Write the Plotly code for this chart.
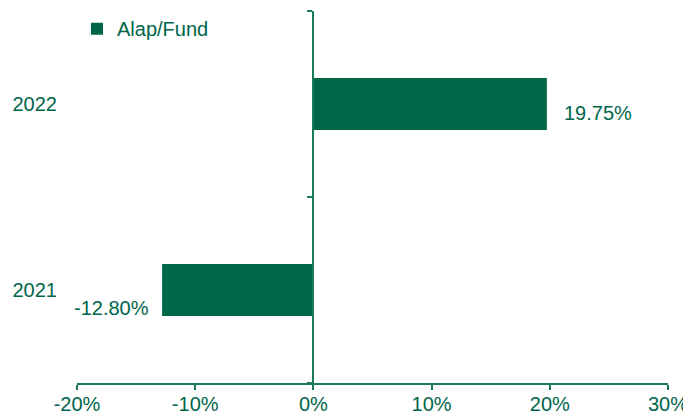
import plotly.graph_objects as go

years = ["2021", "2022"]
fund_returns = [-12.80, 19.75]
label_texts = ["-12.80%", "19.75%"]
x_ticks = [-20, -10, 0, 10, 20, 30]
x_tick_labels = ["-20%", "-10%", "0%", "10%", "20%", "30%"]
series_name = "Alap/Fund"

GREEN = "#00664A"
AXIS = "#1B7A58"
FONT = "Liberation Sans, Arial, sans-serif"
FS = 20

fig = go.Figure()
fig.add_trace(go.Bar(
    x=fund_returns, y=years, orientation="h", name=series_name,
    marker=dict(color=GREEN, line=dict(width=0)), width=0.28,
    yaxis="y", xaxis="x", showlegend=True, hoverinfo="skip",
))
# invisible trace to draw the category axis at x = 0
fig.add_trace(go.Scatter(
    x=[0, 0], y=years, yaxis="y2", xaxis="x", mode="markers",
    marker=dict(opacity=0), showlegend=False, hoverinfo="skip",
))

# data labels (category index positions)
shifts = [-18, -9]
for i, (v, t, s) in enumerate(zip(fund_returns, label_texts, shifts)):
    fig.add_annotation(
        x=v, y=i, xref="x", yref="y", text=t, showarrow=False,
        xanchor="left" if v >= 0 else "right",
        xshift=15 if v >= 0 else -11, yshift=s,
        font=dict(family=FONT, size=FS, color=GREEN),
    )

# page body has an 8px margin, so the figure is sized/offset to compensate
fig.update_layout(
    width=683, height=408,
    margin=dict(l=69, r=23, t=2, b=33),
    paper_bgcolor="white", plot_bgcolor="white",
    font=dict(family=FONT, size=FS, color=GREEN),
    xaxis=dict(
        range=[-20, 30], tickvals=x_ticks, ticktext=x_tick_labels,
        showgrid=False, zeroline=False, showline=True, linecolor=AXIS, linewidth=2,
        ticks="outside", ticklen=5, tickwidth=2, tickcolor=AXIS, automargin=False,
        ticklabelstandoff=-3,
        tickfont=dict(family=FONT, size=FS, color=GREEN), fixedrange=True,
    ),
    yaxis=dict(
        type="category", categoryarray=years, range=[-0.5, 1.5],
        showgrid=False, zeroline=False, showline=False, ticks="",
        ticklabelstandoff=19, automargin=False,
        tickfont=dict(family=FONT, size=FS, color=GREEN), fixedrange=True,
    ),
    yaxis2=dict(
        type="category", categoryarray=years, range=[-0.5, 1.5],
        overlaying="y", anchor="free", position=0.4, side="left",
        showgrid=False, zeroline=False, showline=True, linecolor=AXIS, linewidth=2,
        ticks="outside", tickson="boundaries", ticklen=5, tickwidth=2, tickcolor=AXIS,
        showticklabels=False, fixedrange=True, automargin=False,
    ),
    legend=dict(
        x=0.0, y=0.95, xanchor="left", yanchor="middle",
        bgcolor="rgba(0,0,0,0)", font=dict(family=FONT, size=FS, color=GREEN),
        itemwidth=30,
    ),
)

fig.write_html("out.html")
